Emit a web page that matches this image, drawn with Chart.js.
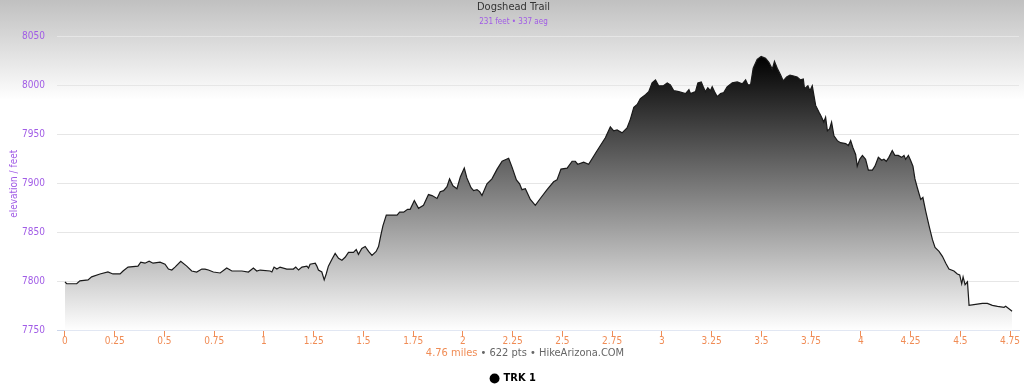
<!DOCTYPE html>
<html>
<head>
<meta charset="utf-8">
<title>Dogshead Trail</title>
<script src="https://cdn.jsdelivr.net/npm/chart.js@4.4.1/dist/chart.umd.min.js"></script>
<style>
  html, body { margin: 0; padding: 0; }
  body { background: #fff; }
  #wrap {
    position: relative; width: 1024px; height: 391px;
    background: linear-gradient(to bottom, #c0c0c0 0px, #ffffff 100px, #ffffff 391px);
  }
</style>
</head>
<body>
<div id="wrap"><canvas id="profile"></canvas></div>
<script>
/* Elevation profile: distance (miles) vs elevation (feet) */

const miles = [
  0.000, 0.009, 0.059, 0.075, 0.116, 0.134, 0.176, 0.216, 0.241, 0.277,
  0.292, 0.317, 0.367, 0.381, 0.402, 0.423, 0.443, 0.478, 0.503, 0.520,
  0.537, 0.553, 0.582, 0.612, 0.637, 0.662, 0.688, 0.704, 0.721, 0.746,
  0.780, 0.813, 0.839, 0.889, 0.922, 0.947, 0.964, 0.981, 1.031, 1.040,
  1.051, 1.065, 1.081, 1.115, 1.148, 1.160, 1.174, 1.191, 1.216, 1.224,
  1.232, 1.258, 1.266, 1.274, 1.291, 1.303, 1.313, 1.324, 1.342, 1.358,
  1.375, 1.392, 1.408, 1.425, 1.450, 1.464, 1.475, 1.492, 1.509, 1.526,
  1.543, 1.564, 1.576, 1.588, 1.598, 1.615, 1.635, 1.669, 1.682, 1.702,
  1.722, 1.735, 1.756, 1.777, 1.802, 1.827, 1.845, 1.870, 1.886, 1.903,
  1.920, 1.933, 1.950, 1.970, 1.987, 2.007, 2.020, 2.041, 2.054, 2.071,
  2.084, 2.096, 2.121, 2.146, 2.172, 2.197, 2.230, 2.247, 2.269, 2.285,
  2.297, 2.314, 2.339, 2.364, 2.389, 2.423, 2.456, 2.473, 2.493, 2.524,
  2.549, 2.565, 2.577, 2.607, 2.632, 2.675, 2.716, 2.741, 2.758, 2.775,
  2.800, 2.825, 2.842, 2.859, 2.876, 2.892, 2.918, 2.934, 2.951, 2.968,
  2.984, 3.008, 3.027, 3.043, 3.060, 3.085, 3.102, 3.119, 3.136, 3.144,
  3.169, 3.181, 3.198, 3.208, 3.219, 3.231, 3.244, 3.253, 3.265, 3.278,
  3.295, 3.311, 3.328, 3.354, 3.379, 3.404, 3.421, 3.432, 3.446, 3.459,
  3.479, 3.499, 3.521, 3.538, 3.555, 3.566, 3.580, 3.597, 3.610, 3.627,
  3.644, 3.663, 3.680, 3.697, 3.711, 3.717, 3.734, 3.744, 3.756, 3.773,
  3.790, 3.798, 3.814, 3.823, 3.832, 3.843, 3.853, 3.865, 3.882, 3.898,
  3.924, 3.937, 3.949, 3.960, 3.974, 3.982, 3.994, 4.008, 4.024, 4.038,
  4.058, 4.071, 4.088, 4.105, 4.116, 4.128, 4.141, 4.158, 4.171, 4.188,
  4.205, 4.217, 4.225, 4.239, 4.250, 4.262, 4.272, 4.284, 4.301, 4.312,
  4.326, 4.343, 4.360, 4.373, 4.393, 4.410, 4.427, 4.443, 4.468, 4.485,
  4.497, 4.507, 4.514, 4.524, 4.536, 4.544, 4.577, 4.611, 4.636, 4.661,
  4.687, 4.720, 4.728, 4.754, 4.760
];

const feet = [
  7800, 7798, 7798, 7801, 7802, 7805, 7808, 7810, 7808, 7808,
  7811, 7815, 7816, 7820, 7819, 7821, 7819, 7820, 7818, 7813,
  7812, 7815, 7821, 7816, 7811, 7810, 7813, 7813, 7812, 7810,
  7809, 7814, 7811, 7811, 7810, 7814, 7811, 7812, 7811, 7810,
  7815, 7813, 7815, 7813, 7813, 7815, 7812, 7815, 7816, 7814,
  7818, 7819, 7816, 7812, 7810, 7802, 7808, 7816, 7823, 7829,
  7824, 7822, 7825, 7830, 7830, 7833, 7828, 7834, 7836, 7831,
  7827, 7831, 7836, 7848, 7857, 7868, 7868, 7868, 7871, 7871,
  7874, 7874, 7883, 7875, 7878, 7889, 7888, 7885, 7892, 7893,
  7897, 7905, 7898, 7895, 7907, 7916, 7906, 7896, 7893, 7894,
  7892, 7888, 7900, 7905, 7915, 7923, 7926, 7917, 7904, 7900,
  7894, 7895, 7884, 7878, 7885, 7894, 7902, 7904, 7915, 7916,
  7923, 7923, 7920, 7922, 7920, 7934, 7947, 7958, 7954, 7955,
  7952, 7957, 7966, 7978, 7981, 7987, 7991, 7994, 8003, 8006,
  8000, 8000, 8003, 8001, 7995, 7994, 7993, 7992, 7996, 7992,
  7994, 8003, 8004, 7999, 7994, 7998, 7995, 7999, 7994, 7989,
  7992, 7993, 7999, 8003, 8004, 8002, 8006, 8001, 8001, 8018,
  8027, 8030, 8028, 8024, 8017, 8025, 8018, 8011, 8005, 8009,
  8011, 8010, 8009, 8006, 8007, 7997, 8000, 7995, 8000, 7980,
  7973, 7970, 7963, 7968, 7954, 7956, 7963, 7949, 7944, 7942,
  7941, 7939, 7944, 7937, 7930, 7918, 7925, 7929, 7925, 7914,
  7914, 7918, 7927, 7924, 7925, 7923, 7927, 7934, 7929, 7929,
  7927, 7929, 7925, 7929, 7924, 7918, 7905, 7896, 7884, 7886,
  7872, 7857, 7843, 7835, 7831, 7826, 7819, 7813, 7811, 7808,
  7807, 7798, 7805, 7797, 7800, 7776, 7777, 7778, 7778, 7776,
  7775, 7774, 7775, 7771, 7770
];

const xTicks = [0, 0.25, 0.5, 0.75, 1, 1.25, 1.5, 1.75, 2, 2.25, 2.5, 2.75,
                3, 3.25, 3.5, 3.75, 4, 4.25, 4.5, 4.75];
const yTicks = [7750, 7800, 7850, 7900, 7950, 8000, 8050];

const trailName = "Dogshead Trail";
const subtitleText = "231 feet \u2022 337 aeg";
const seriesName = "TRK 1";
const xTitleParts = [
  { text: "4.76 miles", color: "#f08c55" },
  { text: " \u2022 622 pts \u2022 HikeArizona.COM", color: "#666666" }
];

const FONT = "'Liberation Sans Narrow', 'DejaVu Sans Condensed', 'Roboto', sans-serif";
const PURPLE = "#a15ce6";
const ORANGE = "#f08c55";
const X_TITLE_PAD_BOTTOM = 10;

// x axis title in two colours; the scale's own title only reserves the space
const xTitlePlugin = {
  id: "xTitleParts",
  afterDraw(chart) {
    const s = chart.scales.x;
    const ctx = chart.ctx;
    ctx.save();
    ctx.font = "11px " + FONT;
    ctx.textBaseline = "middle";
    ctx.textAlign = "left";
    const total = xTitleParts.reduce((w, p) => w + ctx.measureText(p.text).width, 0);
    let x = (chart.chartArea.left + chart.chartArea.right) / 2 - 13 - total / 2;
    const y = s.bottom - X_TITLE_PAD_BOTTOM - 6.6;
    xTitleParts.forEach((p) => {
      ctx.fillStyle = p.color;
      ctx.fillText(p.text, x, y);
      x += ctx.measureText(p.text).width;
    });
    ctx.restore();
  }
};

const points = miles.map((m, i) => ({ x: m, y: feet[i] }));

new Chart(document.getElementById("profile").getContext("2d"), {
  type: "line",
  data: {
    datasets: [
      {
        label: seriesName,
        data: points,
        borderColor: "#1a1a1a",
        borderWidth: 1.2,
        pointRadius: 0,
        tension: 0,
        fill: "start",
        backgroundColor: (c) => {
          const chart = c.chart;
          const area = chart.chartArea;
          if (!area) return "#888";
          const top = chart.scales.y.getPixelForValue(Math.max(...feet));
          const g = chart.ctx.createLinearGradient(0, top, 0, area.bottom);
          g.addColorStop(0, "#000000");
          g.addColorStop(1, "#ffffff");
          return g;
        },
      },
    ],
  },
  options: {
    responsive: true,
    maintainAspectRatio: false,
    animation: false,
    layout: { padding: { left: 8, right: 5, top: 0, bottom: -3 } },
    plugins: {
      title: {
        display: true,
        text: trailName,
        color: "#333333",
        font: { family: FONT, size: 11, weight: "normal" },
        padding: { top: 1, bottom: 2 },
      },
      subtitle: {
        display: true,
        text: subtitleText,
        color: PURPLE,
        font: { family: FONT, size: 8 },
        padding: { top: 1, bottom: 10 },
      },
      legend: {
        position: "bottom",
        labels: {
          usePointStyle: true,
          boxWidth: 7,
          boxHeight: 7,
          padding: 3,
          color: "#333333",
          font: { family: FONT, size: 11, weight: "bold" },
          generateLabels: () => [
            { text: seriesName, fillStyle: "#000", strokeStyle: "#000", pointStyle: "circle", lineWidth: 0, datasetIndex: 0 },
          ],
        },
      },
      tooltip: { enabled: false },
    },
    scales: {
      x: {
        type: "linear",
        min: -0.04,
        max: 4.795,
        afterBuildTicks: (s) => { s.ticks = xTicks.map((v) => ({ value: v })); },
        grid: { drawOnChartArea: false, drawTicks: true, tickLength: 6, tickColor: ORANGE, tickWidth: 1 },
        border: { display: true, color: "#ccd6eb", width: 1 },
        ticks: {
          color: ORANGE,
          padding: 0,
          maxRotation: 0,
          autoSkip: false,
          font: { family: FONT, size: 10, lineHeight: 1 },
          callback: (v) => String(+Number(v).toFixed(2)),
        },
        title: {
          display: true,
          text: xTitleParts.map((p) => p.text).join(""),
          color: "rgba(0,0,0,0)",
          font: { family: FONT, size: 11 },
          padding: { top: 0, bottom: X_TITLE_PAD_BOTTOM },
        },
      },
      y: {
        min: 7750,
        max: 8050,
        afterBuildTicks: (s) => { s.ticks = yTicks.map((v) => ({ value: v })); },
        afterFit: (s) => { s.width = 49; },
        grid: { color: "#e6e6e6", drawTicks: false },
        border: { display: false },
        ticks: {
          color: PURPLE,
          padding: 12,
          font: { family: FONT, size: 10 },
          callback: (v) => String(v),
        },
        title: {
          display: true,
          text: "elevation / feet",
          color: PURPLE,
          font: { family: FONT, size: 10 },
          padding: 0,
        },
      },
    },
  },
  plugins: [xTitlePlugin],
});
</script>
</body>
</html>
